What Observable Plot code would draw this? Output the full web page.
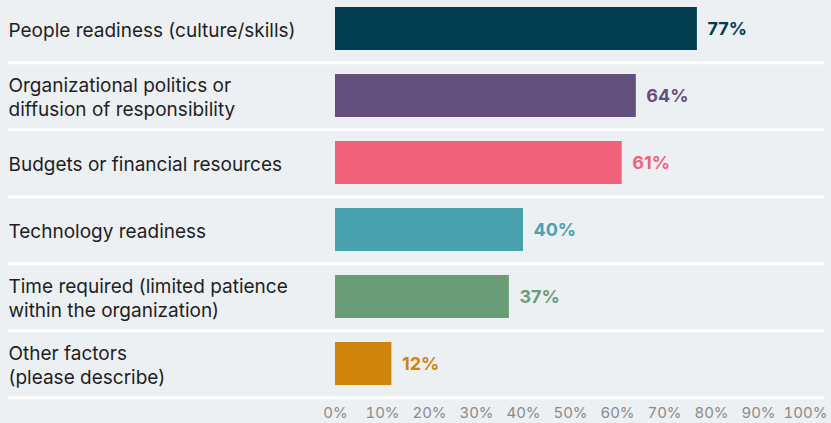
<!DOCTYPE html>
<html>
<head>
<meta charset="utf-8">
<script src="https://cdn.jsdelivr.net/npm/d3@7"></script>
<script src="https://cdn.jsdelivr.net/npm/@observablehq/plot@0.6"></script>
<style>
  html, body { margin: 0; padding: 0; background: #edf0f3; }
  #chart svg { display: block; }
</style>
</head>
<body>
<div id="chart"></div>
<script>
const categories = [
  "People readiness (culture/skills)",
  "Organizational politics or\ndiffusion of responsibility",
  "Budgets or financial resources",
  "Technology readiness",
  "Time required (limited patience\nwithin the organization)",
  "Other factors\n(please describe)"
];
const values = [77, 64, 61, 40, 37, 12];
const palette = ["#023d4f", "#624f7c", "#f0627a", "#48a1ad", "#6a9c77", "#cf850b"];
const xTicks = [0, 10, 20, 30, 40, 50, 60, 70, 80, 90, 100];

const data = categories.map((c, i) => ({cat: c, value: values[i], color: palette[i]}));

const W = 831, H = 423;
const yRange = [-7, 399];
const step = (yRange[1] - yRange[0]) / categories.length;

const chart = Plot.plot({
  width: W,
  height: H,
  marginLeft: 8,
  marginRight: 7,
  marginTop: 0,
  marginBottom: 20,
  style: {background: "#edf0f3", fontFamily: "Inter, 'Noto Sans', sans-serif", overflow: "visible"},
  x: {domain: [0, 100], range: [335, 805], axis: null, label: null},
  y: {domain: categories, range: yRange, paddingInner: 0.365, paddingOuter: 0.1825, axis: null, label: null},
  color: {type: "identity"},
  marks: [
    Plot.ruleY(categories, {y: d => d, dy: step / 2, stroke: "#ffffff", strokeWidth: 3}),
    Plot.barX(data, {x: "value", y: "cat", fill: "color"}),
    Plot.text(data, {x: "value", y: "cat", text: d => d.value + "%", textAnchor: "start", dx: 10, fill: "color", fontWeight: 700, fontSize: 18}),
    Plot.text(data, {y: "cat", text: "cat", frameAnchor: "left", textAnchor: "start", fill: "#1e1e1e", fontSize: 19, lineHeight: 1.3}),
    Plot.axisX(xTicks, {anchor: "bottom", label: null, tickSize: 0, tickPadding: 4, tickFormat: d => d + "%", fontSize: 15, fill: "#8a8a8a", color: "#8a8a8a"})
  ]
});
document.getElementById("chart").appendChild(chart);
</script>
</body>
</html>
